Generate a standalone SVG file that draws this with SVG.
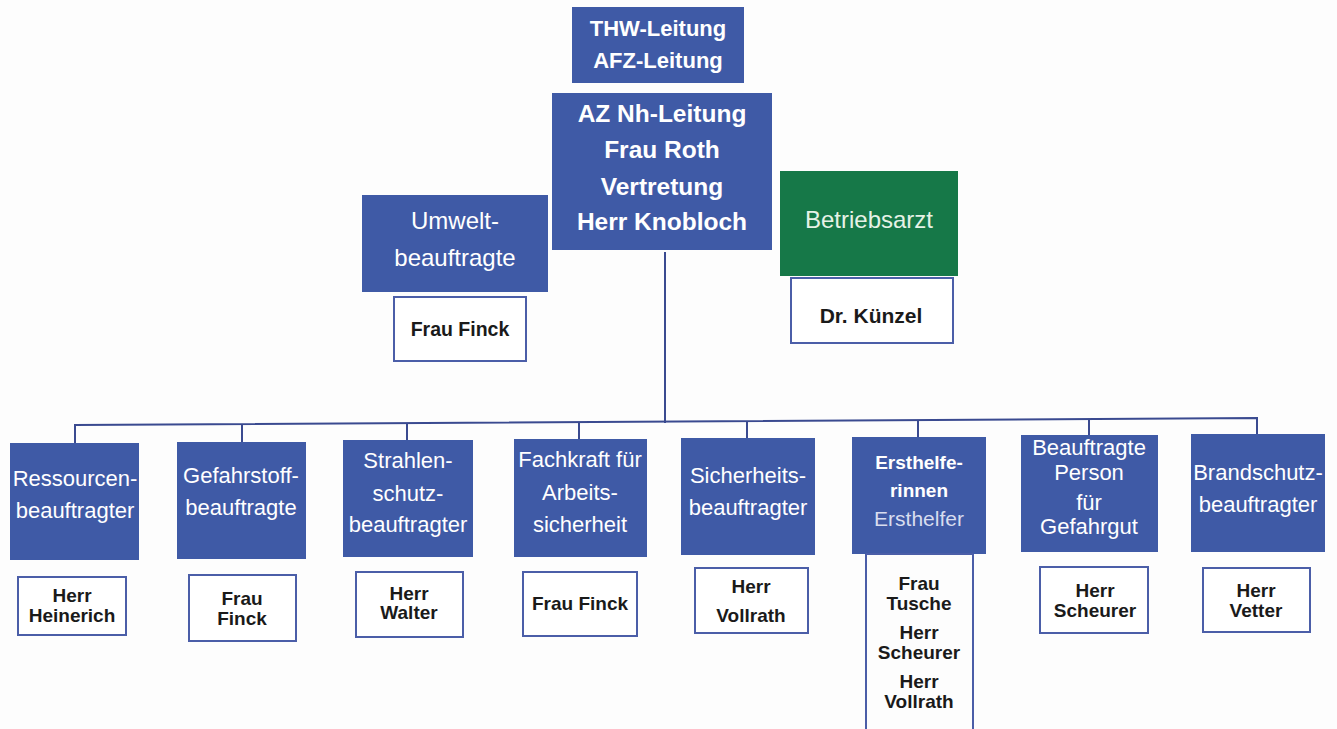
<svg xmlns="http://www.w3.org/2000/svg" width="1337" height="729" viewBox="0 0 1337 729">
<style>
.blue{fill:#3f5aa6}
.green{fill:#167848}
.wbox{fill:#fff;stroke:#4b5ea8;stroke-width:2}
.hb{font-family:"Liberation Sans",Arial,sans-serif;font-weight:bold;fill:#fff;text-anchor:middle}
.hr{font-family:"Liberation Sans",Arial,sans-serif;fill:#fff;text-anchor:middle;font-size:22px}
.nm{font-family:"Liberation Sans",Arial,sans-serif;font-weight:bold;fill:#1a1a1a;text-anchor:middle;font-size:19px}
.conn{stroke:#3a4a90;stroke-width:2;fill:none}
</style>
<rect width="1337" height="729" fill="#fdfdfd"/>
<g id="connectors">
<path class="conn" d="M665 252 V423"/>
<path class="conn" d="M75 443 V425 L1257 418 V434"/>
<path class="conn" d="M242 442 V425"/>
<path class="conn" d="M407 440 V424"/>
<path class="conn" d="M579 439 V423"/>
<path class="conn" d="M747 438 V422"/>
<path class="conn" d="M918 437 V421"/>
<path class="conn" d="M1089 435 V419"/>
</g>
<g id="thw">
<rect class="blue" x="572" y="7" width="172" height="76"/>
<text class="hb" font-size="22" x="658" y="36">THW-Leitung</text>
<text class="hb" font-size="22" x="658" y="68">AFZ-Leitung</text>
</g>
<g id="az">
<rect class="blue" x="552" y="93" width="220" height="157"/>
<text class="hb" font-size="24.5" x="662" y="122">AZ Nh-Leitung</text>
<text class="hb" font-size="24.5" x="662" y="158">Frau Roth</text>
<text class="hb" font-size="24.5" x="662" y="195">Vertretung</text>
<text class="hb" font-size="24.5" x="662" y="230">Herr Knobloch</text>
</g>
<g id="umwelt">
<rect class="blue" x="362" y="195" width="186" height="97"/>
<text class="hr" style="font-size:24px" x="455" y="229">Umwelt-</text>
<text class="hr" style="font-size:24px" x="455" y="266">beauftragte</text>
<rect class="wbox" x="394" y="297" width="132" height="64"/>
<text class="nm" style="font-size:19.5px" x="460" y="336">Frau Finck</text>
</g>
<g id="betriebsarzt">
<rect class="green" x="780" y="171" width="178" height="105"/>
<text class="hr" style="font-size:24px;fill:#e6f2e6" x="869" y="228">Betriebsarzt</text>
<rect class="wbox" x="791" y="278" width="162" height="65"/>
<text class="nm" style="font-size:21px" x="871" y="323">Dr. Künzel</text>
</g>
<g id="ressourcen">
<rect class="blue" x="10" y="443" width="129" height="117"/>
<text class="hr" x="75" y="486">Ressourcen-</text>
<text class="hr" x="75" y="518">beauftragter</text>
<rect class="wbox" x="18" y="577" width="108" height="58"/>
<text class="nm" x="72" y="602">Herr</text>
<text class="nm" x="72" y="622">Heinerich</text>
</g>
<g id="gefahrstoff">
<rect class="blue" x="177" y="442" width="129" height="117"/>
<text class="hr" x="241" y="483">Gefahrstoff-</text>
<text class="hr" x="241" y="515">beauftragte</text>
<rect class="wbox" x="189" y="575" width="107" height="66"/>
<text class="nm" x="242" y="605">Frau</text>
<text class="nm" x="242" y="625">Finck</text>
</g>
<g id="strahlen">
<rect class="blue" x="343" y="440" width="130" height="117"/>
<text class="hr" x="408" y="468">Strahlen-</text>
<text class="hr" x="408" y="501">schutz-</text>
<text class="hr" x="408" y="532">beauftragter</text>
<rect class="wbox" x="356" y="572" width="107" height="65"/>
<text class="nm" x="409" y="600">Herr</text>
<text class="nm" x="409" y="619">Walter</text>
</g>
<g id="fachkraft">
<rect class="blue" x="514" y="439" width="133" height="118"/>
<text class="hr" x="580" y="467">Fachkraft für</text>
<text class="hr" x="580" y="500">Arbeits-</text>
<text class="hr" x="580" y="532">sicherheit</text>
<rect class="wbox" x="523" y="572" width="114" height="64"/>
<text class="nm" x="580" y="610">Frau Finck</text>
</g>
<g id="sicherheit">
<rect class="blue" x="681" y="438" width="134" height="117"/>
<text class="hr" x="748" y="483">Sicherheits-</text>
<text class="hr" x="748" y="515">beauftragter</text>
<rect class="wbox" x="695" y="568" width="113" height="65"/>
<text class="nm" x="751" y="593">Herr</text>
<text class="nm" x="751" y="622">Vollrath</text>
</g>
<g id="ersthelfer">
<rect class="blue" x="852" y="437" width="134" height="117"/>
<text class="hb" font-size="19" x="919" y="469">Ersthelfe-</text>
<text class="hb" font-size="19" x="919" y="497">rinnen</text>
<text class="hr" style="font-size:21px;fill:#d8ddef" x="919" y="526">Ersthelfer</text>
<path class="wbox" d="M866 554 V730 M973 554 V730 M866 554 H973"/>
<text class="nm" x="919" y="590">Frau</text>
<text class="nm" x="919" y="610">Tusche</text>
<text class="nm" x="919" y="639">Herr</text>
<text class="nm" x="919" y="659">Scheurer</text>
<text class="nm" x="919" y="688">Herr</text>
<text class="nm" x="919" y="708">Vollrath</text>
</g>
<g id="gefahrgut">
<rect class="blue" x="1021" y="435" width="137" height="117"/>
<text class="hr" x="1089" y="455">Beauftragte</text>
<text class="hr" x="1089" y="480">Person</text>
<text class="hr" x="1089" y="510">für</text>
<text class="hr" x="1089" y="534">Gefahrgut</text>
<rect class="wbox" x="1040" y="567" width="108" height="66"/>
<text class="nm" x="1095" y="597">Herr</text>
<text class="nm" x="1095" y="617">Scheurer</text>
</g>
<g id="brandschutz">
<rect class="blue" x="1191" y="434" width="134" height="118"/>
<text class="hr" x="1258" y="480">Brandschutz-</text>
<text class="hr" x="1258" y="512">beauftragter</text>
<rect class="wbox" x="1203" y="568" width="107" height="64"/>
<text class="nm" x="1256" y="597">Herr</text>
<text class="nm" x="1256" y="617">Vetter</text>
</g>
</svg>
